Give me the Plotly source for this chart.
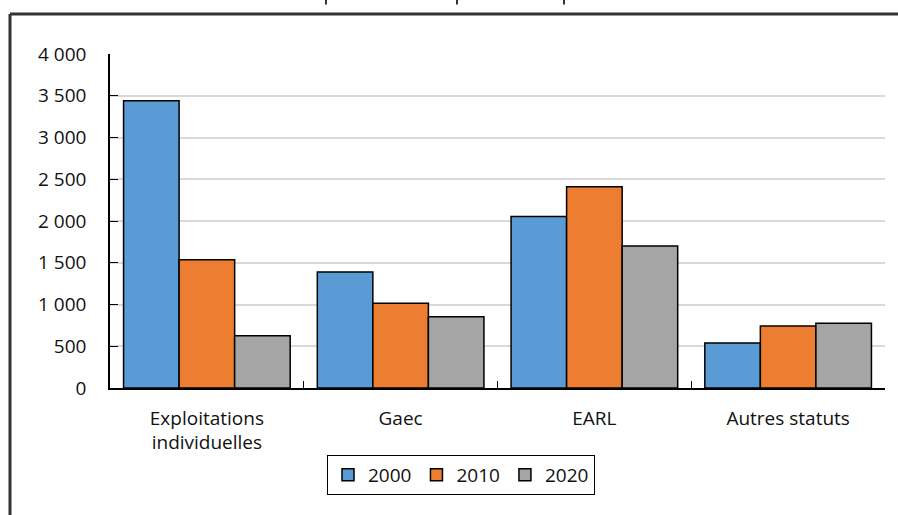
import plotly.graph_objects as go

# --- data ---
categories = ["Exploitations<br>individuelles", "Gaec", "EARL", "Autres statuts"]
years = ["2000", "2010", "2020"]
values_2000 = [3440, 1390, 2055, 540]
values_2010 = [1535, 1015, 2410, 742]
values_2020 = [625, 852, 1700, 775]

series = [values_2000, values_2010, values_2020]
colors = ["#5B9BD5", "#ED7D31", "#A5A5A5"]

W, H = 898, 515
L, R, T, B = 110, 13, 54, 127
pw, ph = W - L - R, H - T - B


def px(x):
    return (x - L) / pw


def py(y):
    return (H - B - y) / ph


fig = go.Figure()
for name, vals, col in zip(years, series, colors):
    fig.add_trace(go.Bar(
        x=categories, y=vals, name=name,
        marker=dict(color=col, line=dict(color="black", width=1.5)),
    ))

# frame around the figure (left + top only, the rest is cropped) and the
# cut-off descenders of the title above it
frame = dict(color="#333333", width=3)
shapes = [
    dict(type="line", xref="paper", yref="paper",
         x0=px(10), x1=px(10), y0=py(14), y1=py(H), line=frame),
    dict(type="line", xref="paper", yref="paper",
         x0=px(10), x1=px(W), y0=py(14), y1=py(14), line=frame),
]
for xx in (326, 457, 564):
    shapes.append(dict(type="line", xref="paper", yref="paper",
                       x0=px(xx), x1=px(xx), y0=py(0), y1=py(4.5),
                       line=dict(color="#333333", width=2)))

font = "'Open Sans', Lato, sans-serif"
fig.update_layout(
    width=W, height=H,
    margin=dict(l=L, r=R, t=T, b=B),
    paper_bgcolor="white", plot_bgcolor="white",
    barmode="group", bargap=0.14, bargroupgap=0,
    separators=", ",
    font=dict(family=font, size=19, color="#111111"),
    showlegend=True,
    legend=dict(
        orientation="h", x=px(461), xanchor="center", y=py(455), yanchor="top",
        bordercolor="black", borderwidth=1, font=dict(size=19),
        itemwidth=30, traceorder="normal", tracegroupgap=0,
    ),
    xaxis=dict(
        showline=True, linecolor="black", linewidth=1.5,
        ticks="inside", tickson="boundaries", ticklen=7, tickcolor="black",
        tickfont=dict(size=19), ticklabelstandoff=12,
    ),
    yaxis=dict(
        range=[0, 4000], dtick=500, tickformat=",",
        showline=True, linecolor="black", linewidth=1.5,
        ticks="inside", ticklen=8, tickcolor="black",
        showgrid=True, gridcolor="#D9D9D9", gridwidth=1.5,
        zeroline=False, tickfont=dict(size=19), ticklabelstandoff=18,
    ),
    shapes=shapes,
)

fig.write_html("out.html", config={"displayModeBar": False},
               post_script="document.body.style.margin='0';")
